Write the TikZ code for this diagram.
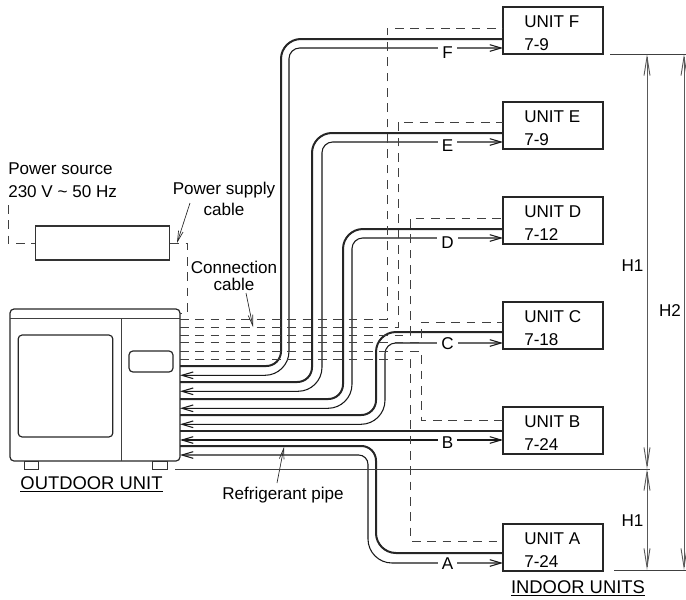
\documentclass[tikz,border=0pt]{standalone}
\usepackage{fontspec}
\setmainfont{Liberation Sans}
\usetikzlibrary{arrows.meta}

\begin{document}
\begin{tikzpicture}[x=0.75pt,y=-0.75pt,
  font=\fontsize{12.8pt}{15pt}\selectfont,
  unit/.style={draw=black!85, line width=1.1pt, minimum width=75pt, minimum height=35pt, inner sep=0pt},
  body/.style={draw=black!85, line width=0.9pt, rounded corners=3pt},
  pipe/.style={draw=black!85, line width=1.5pt},
  tube/.style={draw=black!90, line width=0.8pt, <->, >={Straight Barb[length=8.5pt,width=5pt]}},
  cable/.style={draw=black!75, line width=0.75pt, dash pattern=on 6.5pt off 5pt},
  leader/.style={draw=black!85, line width=0.5pt, ->, >={Straight Barb[length=8pt,width=3.5pt]}},
  dim/.style={draw=black!65, line width=0.7pt, <->, >={Straight Barb[length=14pt,width=4.5pt]}},
  rule/.style={draw=black!75, line width=0.6pt},
  tag/.style={fill=white, inner xsep=3pt, inner ysep=0pt, text height=9pt, text depth=0pt}]
\useasboundingbox (0,0) rectangle (686,600);

% outdoor unit
\node[body, minimum width=127.5pt, minimum height=114pt, inner sep=0pt] (outdoor) at (95,385) {};
\node[body, minimum width=71pt, minimum height=76.5pt, inner sep=0pt] (grille) at (65.5,386) {};
\node[body, minimum width=33pt, minimum height=15.8pt, inner sep=0pt] (panel) at (151,361.5) {};
\coordinate (lidL) at (10,318);
\coordinate (lidR) at (180,318);
\coordinate (divT) at (121,318);
\coordinate (divB) at (121,461);
\draw[rule] (lidL) -- (lidR);
\draw[rule] (divT) -- (divB);
\node[draw=black!80, line width=0.6pt, minimum width=11pt, minimum height=6pt, inner sep=0pt] (footL) at (31.5,465) {};
\node[draw=black!80, line width=0.6pt, minimum width=11pt, minimum height=6pt, inner sep=0pt] (footR) at (160,465) {};
\node (outlabel) at (91.5,484.5) {\fontsize{13.8pt}{15pt}\selectfont\underline{OUTDOOR UNIT}};

% indoor units
\foreach \u/\y/\r in {F/30.5/7-9, E/125.5/7-9, D/220.5/7-12, C/325.5/7-18, B/430.5/7-24, A/547.5/7-24} {
  \node[unit] (unit\u) at (553,\y) {};
  \node[anchor=west, inner sep=0pt] (name\u) at (524,\y-9) {UNIT \u};
  \node[anchor=west, inner sep=0pt] (range\u) at (524,\y+14) {\r};
}
\node (inlabel) at (578,588) {\fontsize{13.8pt}{15pt}\selectfont\underline{INDOOR UNITS}};

% pipes
\foreach \u/\yo/\xa/\ya/\xb/\yb in {F/366/281/39/289/48, E/382/312/133/322/142, D/399/343/229/352/238, C/415/376/332/385/343} {
  \pgfmathsetmacro{\yt}{\yo+9.3}
  \coordinate (thick\u) at (180,\yo);
  \coordinate (thin\u) at (180,\yt);
  \coordinate (thickin\u) at (503,\ya);
  \coordinate (thinin\u) at (503,\yb);
  \draw[pipe] (thick\u) [rounded corners=11pt] -- (\xa,\yo) [rounded corners=15pt] -- (\xa,\ya) -- (thickin\u);
  \draw[tube] (thin\u) [rounded corners=18pt] -- (\xb,\yt) [rounded corners=8pt] -- (\xb,\yb) -- (thinin\u);
}
\coordinate (thickB) at (180,431);
\coordinate (thinB) at (180,440);
\coordinate (thickinB) at (503,431);
\coordinate (thininB) at (503,440);
\draw[pipe] (thickB) -- (thickinB);
\draw[tube] (thinB) -- (thininB);
\coordinate (thickA) at (180,446);
\coordinate (thinA) at (180,455);
\coordinate (thickinA) at (503,553);
\coordinate (thininA) at (503,563);
\draw[pipe] (thickA) [rounded corners=11pt] -- (376,446) [rounded corners=15pt] -- (376,553) -- (thickinA);
\draw[tube] (thinA) [rounded corners=7pt] -- (368,455) [rounded corners=18pt] -- (368,563) -- (thininA);
\foreach \u/\y in {F/52, E/145, D/242, C/343, B/442, A/563} {
  \node[tag] (tag\u) at (447.5,\y) {\u};
}

% cables
\foreach \u/\yo/\x/\y in {F/319/387/28, E/327/398/122, D/335/410/218, C/342/421/322, B/351/421/420, A/359/410/541} {
  \coordinate (wire\u) at (180,\yo);
  \coordinate (wirein\u) at (503,\y);
  \draw[cable] (wire\u) -- (\x,\yo) -- (\x,\y) -- (wirein\u);
}
\node[draw=black!80, line width=0.8pt, minimum width=101pt, minimum height=25.5pt, inner sep=0pt] (breaker) at (102.5,243) {};
\coordinate (srcTop) at (8,205);
\coordinate (srcBend) at (8,243);
\coordinate (supBend) at (187,243);
\coordinate (supLow) at (187,313);
\coordinate (supEnd) at (180,313);
\draw[cable] (srcTop) -- (srcBend) -- (breaker.west);
\draw[cable] (breaker.east) -- (supBend) -- (supLow) -- (supEnd);

% texts
\node[anchor=west, inner sep=0pt] (source) at (8,169) {Power source};
\node[anchor=west, inner sep=0pt] (volts) at (8,192) {230 V \textasciitilde{} 50 Hz};
\node[inner sep=0pt] (supply) at (224,190) {Power supply};
\node[inner sep=0pt] (supply2) at (224,209) {cable};
\node[fill=white, inner sep=0.5pt] (conn) at (234,267) {Connection};
\node[fill=white, inner sep=0.5pt] (conn2) at (234,284) {cable};
\node[inner sep=0pt] (refr) at (283,495) {Refrigerant pipe};

% leaders
\coordinate (supStart) at (190,203);
\coordinate (supTip) at (177,243);
\coordinate (connStart) at (246,293);
\coordinate (connTip) at (253,327);
\coordinate (refrStart) at (277,483);
\coordinate (refrTip) at (284,447);
\draw[leader] (supStart) -- (supTip);
\draw[leader] (connStart) -- (connTip);
\draw[leader] (refrStart) -- (refrTip);

% dimensions
\coordinate (topL) at (610,54);
\coordinate (topR) at (686,54);
\coordinate (midL) at (175,469);
\coordinate (midR) at (650,469);
\coordinate (lowL) at (614,570);
\coordinate (lowR) at (686,570);
\draw[rule] (topL) -- (topR);
\draw[rule] (midL) -- (midR);
\draw[rule] (lowL) -- (lowR);
\coordinate (h1a) at (647,54);
\coordinate (h1b) at (647,469);
\coordinate (h1c) at (647,570);
\coordinate (h2a) at (684,54);
\coordinate (h2b) at (684,570);
\draw[dim] (h1a) -- (h1b);
\draw[dim] (h1b) -- (h1c);
\draw[dim] (h2a) -- (h2b);
\node[inner sep=0.5pt] (labelH1) at (632.5,266) {H1};
\node[inner sep=0.5pt] (labelH2) at (670,311) {H2};
\node[inner sep=0.5pt] (labelH1b) at (632.5,521) {H1};
\end{tikzpicture}
\end{document}
